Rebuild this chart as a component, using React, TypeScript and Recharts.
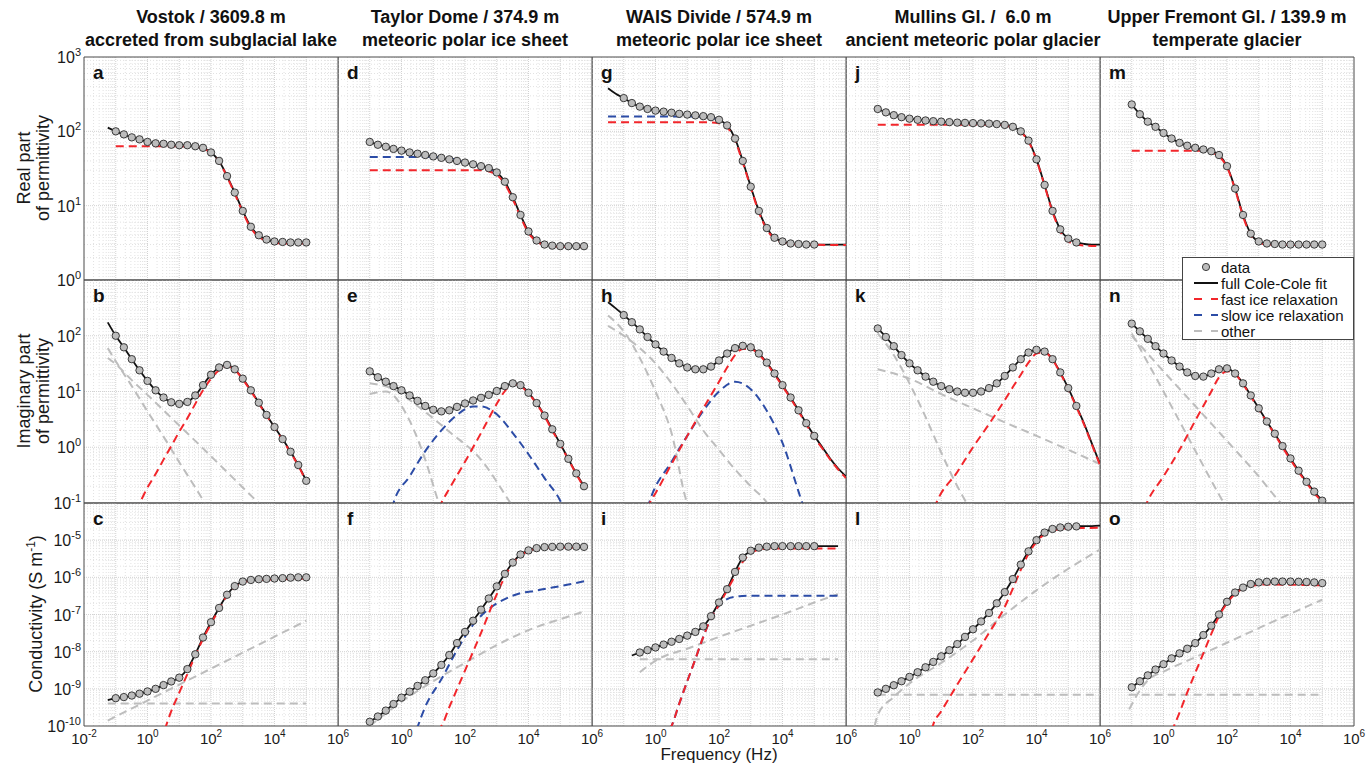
import React from "react";
import {
  CartesianGrid,
  ComposedChart,
  Line,
  ReferenceArea,
  Scatter,
  XAxis,
  YAxis,
} from "recharts";

type Pair = [number, number];
type Val = number | null;

// frequency grid (Hz), quarter-decade steps from 10^-1.5 to 10^6
const FREQ = [
  0.032, 0.056, 0.1, 0.18, 0.32, 0.56, 1, 1.8, 3.2, 5.6, 10, 18, 32, 56, 100, 180, 320, 560, 1000,
  1800, 3200, 5600, 1e4, 1.8e4, 3.2e4, 5.6e4, 1e5, 1.8e5, 3.2e5, 5.6e5, 1e6,
];

const TITLES = [
  ["Vostok / 3609.8 m", "accreted from subglacial lake"],
  ["Taylor Dome / 374.9 m", "meteoric polar ice sheet"],
  ["WAIS Divide / 574.9 m", "meteoric polar ice sheet"],
  ["Mullins Gl. /  6.0 m", "ancient meteoric polar glacier"],
  ["Upper Fremont Gl. / 139.9 m", "temperate glacier"],
];

const X_TICKS_FIRST = [0.01, 1, 100, 1e4, 1e6];
const X_TICKS = [1, 100, 1e4, 1e6];
const ROW_TICKS = [
  [1, 10, 100, 1000],
  [0.1, 1, 10, 100],
  [1e-10, 1e-9, 1e-8, 1e-7, 1e-6, 1e-5],
];
const ROW_DOMAIN: [number, number][] = [
  [1, 1000],
  [0.1, 1000],
  [1e-10, 1e-4],
];

// ---- full Cole-Cole fit, sampled on FREQ ----
const A_FIT: Val[] = [null, 112, 100, 91, 83, 78, 72, 69, 68, 66, 65, 65, 63, 60, 52, 40, 25, 15, 8.5, 5.2, 4.0, 3.5, 3.3, 3.25, 3.2, 3.2, 3.2, null, null, null, null];
const B_FIT: Val[] = [null, 174, 100, 62, 38, 24, 15.5, 10.5, 7.8, 6.4, 6.0, 6.5, 8.5, 13, 20, 27, 30, 25, 17, 10.5, 6.3, 3.8, 2.3, 1.4, 0.83, 0.48, 0.25, null, null, null, null];
const C_FIT: Val[] = [null, 5.0e-10, 5.6e-10, 6.0e-10, 6.6e-10, 7.4e-10, 8.5e-10, 1.0e-9, 1.26e-9, 1.58e-9, 2.0e-9, 3.4e-9, 8.5e-9, 2.4e-8, 6.2e-8, 1.5e-7, 3.4e-7, 5.8e-7, 7.7e-7, 8.5e-7, 8.9e-7, 9.1e-7, 9.3e-7, 9.5e-7, 9.8e-7, 1.0e-6, 1.0e-6, null, null, null, null];

const D_FIT: Val[] = [null, null, 72, 66, 62, 58, 55, 52, 50, 48, 46, 44, 42, 40, 38, 36, 34, 32, 28, 21, 13, 7.5, 4.5, 3.4, 3.0, 2.9, 2.85, 2.85, 2.85, 2.85, null];
const E_FIT: Val[] = [null, null, 23, 18, 15, 12.5, 10.5, 8.5, 6.8, 5.5, 4.7, 4.4, 4.6, 5.3, 6.1, 6.9, 7.7, 8.7, 10.2, 12.5, 14, 13, 9.5, 6.2, 3.7, 2.1, 1.15, 0.62, 0.34, 0.2, null];
const F_FIT: Val[] = [null, null, 1.3e-10, 1.8e-10, 2.6e-10, 3.9e-10, 5.8e-10, 8.4e-10, 1.2e-9, 1.7e-9, 2.6e-9, 4.4e-9, 8.1e-9, 1.7e-8, 3.4e-8, 6.8e-8, 1.35e-7, 2.7e-7, 5.7e-7, 1.24e-6, 2.5e-6, 4.1e-6, 5.3e-6, 6.1e-6, 6.5e-6, 6.6e-6, 6.7e-6, 6.7e-6, 6.7e-6, 6.6e-6, null];

const G_FIT: Val[] = [380, 320, 280, 240, 215, 200, 190, 184, 178, 172, 168, 164, 160, 155, 143, 120, 80, 40, 18, 8.5, 5.0, 3.7, 3.3, 3.1, 3.05, 3.0, 3.0, 3.0, 3.0, 3.0, 3.0];
const H_FIT: Val[] = [400, 310, 235, 175, 130, 95, 70, 52, 40, 32, 27, 25, 25, 28, 36, 48, 60, 66, 62, 48, 33, 21, 13, 7.8, 4.6, 2.7, 1.6, 1.0, 0.62, 0.42, 0.3];
const I_FIT: Val[] = [null, null, null, 7.9e-9, 9.5e-9, 1.1e-8, 1.3e-8, 1.55e-8, 1.85e-8, 2.2e-8, 2.7e-8, 3.4e-8, 4.8e-8, 9e-8, 2.1e-7, 4.8e-7, 1.4e-6, 3.4e-6, 5.2e-6, 6.3e-6, 6.7e-6, 6.9e-6, 6.9e-6, 6.9e-6, 6.9e-6, 6.9e-6, 6.9e-6, 6.9e-6, 6.9e-6, 6.9e-6, null];

const J_FIT: Val[] = [null, null, 200, 180, 165, 155, 148, 143, 140, 137, 135, 133, 131, 130, 129, 128, 127, 125, 122, 115, 100, 75, 42, 19, 8.5, 4.8, 3.6, 3.2, 3.05, 3.0, 3.0];
const K_FIT: Val[] = [null, null, 135, 95, 65, 45, 32, 24, 18.5, 15, 12.5, 11, 10, 9.5, 9.5, 10, 11.5, 14, 19, 27, 38, 50, 56, 52, 38, 22, 11.5, 5.5, 2.6, 1.15, 0.5];
const L_FIT: Val[] = [null, null, 8e-10, 1.0e-9, 1.25e-9, 1.6e-9, 2.1e-9, 2.8e-9, 3.8e-9, 5.3e-9, 7.5e-9, 1.1e-8, 1.6e-8, 2.5e-8, 4.0e-8, 6.5e-8, 1.1e-7, 2.0e-7, 4.0e-7, 9e-7, 2.2e-6, 5e-6, 1.0e-5, 1.6e-5, 2.0e-5, 2.2e-5, 2.3e-5, 2.35e-5, 2.4e-5, 2.4e-5, 2.45e-5];

const M_FIT: Val[] = [null, null, 230, 170, 135, 115, 95, 80, 70, 64, 60, 57, 54, 48, 34, 17, 7.5, 4.2, 3.3, 3.1, 3.05, 3.0, 3.0, 3.0, 3.0, 3.0, 3.0, null, null, null, null];
const N_FIT: Val[] = [null, null, 165, 120, 88, 65, 48, 36, 28, 22, 19, 18.5, 21, 25, 26, 21, 14, 8.5, 5, 2.9, 1.75, 1.05, 0.63, 0.38, 0.24, 0.16, 0.11, null, null, null, null];
const O_FIT: Val[] = [null, null, 1.1e-9, 1.6e-9, 2.3e-9, 3.3e-9, 4.6e-9, 6.6e-9, 9e-9, 1.2e-8, 1.7e-8, 2.8e-8, 5.0e-8, 1.0e-7, 2.2e-7, 3.9e-7, 5.3e-7, 6.6e-7, 7.3e-7, 7.6e-7, 7.7e-7, 7.7e-7, 7.7e-7, 7.6e-7, 7.5e-7, 7.3e-7, 7.0e-7, null, null, null, null];

// ---- fit components, [Hz, value] ----
const A_FAST: Pair[] = [[0.1, 63], [1, 63], [10, 63], [32, 62], [56, 59], [100, 51], [180, 39], [320, 24.5], [560, 14.5], [1000, 8.2], [1800, 5.0], [3200, 3.8], [5600, 3.35], [1e4, 3.15], [3.2e4, 3.1], [1e5, 3.1]];
const B_FAST: Pair[] = [[0.4, 0.075], [0.56, 0.1], [1, 0.19], [1.8, 0.33], [3.2, 0.6], [5.6, 1.05], [10, 1.9], [18, 3.3], [32, 6], [56, 10.5], [100, 17], [180, 24], [320, 28], [560, 24.5], [1000, 16.5], [1800, 10.2], [3200, 6.1], [5600, 3.7], [1e4, 2.25], [1.8e4, 1.35], [3.2e4, 0.8], [5.6e4, 0.47], [1e5, 0.24]];
const B_OTHER_1: Pair[] = [[0.056, 60], [0.1, 35], [0.32, 12.5], [1, 4.4], [3.2, 1.55], [10, 0.54], [32, 0.19], [100, 0.066]];
const B_OTHER_2: Pair[] = [[0.056, 40], [0.1, 31], [0.32, 16], [1, 8.7], [3.2, 4.6], [10, 2.45], [32, 1.3], [100, 0.69], [320, 0.36], [1000, 0.19], [3200, 0.1], [5600, 0.075]];
const C_FAST: Pair[] = [[3.5, 8e-11], [5.6, 2.5e-10], [10, 7.9e-10], [18, 2.5e-9], [32, 7.9e-9], [56, 2.2e-8], [100, 5.6e-8], [180, 1.4e-7], [320, 3.2e-7], [560, 5.4e-7], [1000, 7.2e-7], [1800, 8.1e-7], [3200, 8.5e-7], [1e4, 8.8e-7], [1e5, 9.2e-7]];
const C_OTHER_1: Pair[] = [[0.056, 4e-10], [1e5, 4e-10]];
const C_OTHER_2: Pair[] = [[0.056, 1.4e-10], [1e5, 6.8e-8]];

const D_FAST: Pair[] = [[0.1, 30], [100, 30], [320, 30], [560, 29], [1000, 26], [1800, 19.5], [3200, 12.2], [5600, 7.1], [1e4, 4.3], [1.8e4, 3.3], [3.2e4, 2.95], [1e5, 2.8], [5.6e5, 2.8]];
const D_SLOW: Pair[] = [[0.1, 45], [10, 45], [32, 43.5], [100, 38.5], [320, 33.5], [1000, 27.5]];
const E_FAST: Pair[] = [[15, 0.08], [18, 0.1], [32, 0.18], [100, 0.55], [320, 1.8], [1000, 6.0], [1800, 10.2], [3200, 13.5], [5600, 12.5], [1e4, 9.2], [1.8e4, 6.0], [3.2e4, 3.6], [5.6e4, 2.0], [1e5, 1.12], [1.8e5, 0.6], [3.2e5, 0.33], [5.6e5, 0.19]];
const E_SLOW: Pair[] = [[0.5, 0.08], [0.56, 0.1], [1.8, 0.3], [5.6, 0.85], [18, 2.0], [56, 3.8], [180, 5.4], [320, 5.4], [1000, 3.9], [3200, 1.8], [1e4, 0.75], [3.2e4, 0.28], [1e5, 0.11], [1.3e5, 0.08]];
const E_OTHER_1: Pair[] = [[0.1, 9], [0.32, 10], [1.8, 3], [5.6, 0.6], [15, 0.1], [18, 0.075]];
const E_OTHER_2: Pair[] = [[0.1, 14], [0.56, 11], [3.2, 5.5], [32, 1.9], [320, 0.6], [2700, 0.1], [3500, 0.08]];
const F_FAST: Pair[] = [[12, 8e-11], [18, 1e-10], [32, 3.2e-10], [100, 3.1e-9], [320, 3.2e-8], [1000, 3.5e-7], [1800, 1.04e-6], [3200, 2.37e-6], [5600, 3.9e-6], [1e4, 5.1e-6], [1.8e4, 5.9e-6], [3.2e4, 6.3e-6], [1e5, 6.4e-6], [5.6e5, 6.3e-6]];
const F_SLOW: Pair[] = [[3, 8e-11], [5.6, 3.3e-10], [18, 1.8e-9], [56, 1.1e-8], [180, 5.3e-8], [560, 1.4e-7], [1800, 2.6e-7], [5600, 3.75e-7], [1.8e4, 4.4e-7], [5.6e4, 5.3e-7], [1.8e5, 6.4e-7], [5.6e5, 7.8e-7]];
const F_OTHER_1: Pair[] = [[0.1, 1.0e-10], [1, 4.5e-10], [10, 1.6e-9], [100, 5e-9], [1000, 1.5e-8], [1e4, 3.8e-8], [1e5, 7.5e-8], [5.6e5, 1.2e-7]];

const G_FAST: Pair[] = [[0.032, 132], [56, 132], [100, 128], [180, 113], [320, 76], [560, 38], [1000, 17.5], [1800, 8.2], [3200, 4.8], [5600, 3.6], [1e4, 3.2], [3.2e4, 3.0], [1e6, 2.95]];
const G_SLOW: Pair[] = [[0.032, 158], [18, 158], [56, 152], [100, 142], [180, 120]];
const H_FAST: Pair[] = [[0.56, 0.08], [0.66, 0.1], [1, 0.15], [3.2, 0.5], [10, 1.6], [32, 5], [100, 15], [180, 27], [320, 45], [560, 58], [1000, 58], [1800, 46], [3200, 32], [5600, 20], [1e4, 12.5], [1.8e4, 7.5], [3.2e4, 4.4], [5.6e4, 2.6], [1e5, 1.5], [1.8e5, 0.95], [3.2e5, 0.6], [5.6e5, 0.4], [1e6, 0.28]];
const H_SLOW: Pair[] = [[0.56, 0.08], [0.63, 0.1], [3.2, 0.55], [10, 1.6], [32, 4.5], [100, 10], [320, 15], [1000, 11], [3200, 4.5], [1e4, 1.2], [3.2e4, 0.16], [4.2e4, 0.1], [5e4, 0.08]];
const H_OTHER_1: Pair[] = [[0.032, 230], [0.1, 120], [0.32, 40], [1, 10], [3.2, 1.8], [10, 0.1], [12, 0.08]];
const H_OTHER_2: Pair[] = [[0.032, 150], [0.1, 100], [0.32, 60], [1, 32], [3.2, 14], [10, 5.5], [32, 2], [100, 0.9], [320, 0.4], [1000, 0.2], [3300, 0.1], [4000, 0.085]];
const I_FAST: Pair[] = [[2.8, 8e-11], [3.2, 1e-10], [5.6, 4e-10], [10, 1.6e-9], [18, 6.3e-9], [32, 2.5e-8], [56, 8e-8], [100, 1.8e-7], [180, 4.5e-7], [320, 1.1e-6], [560, 2.6e-6], [1000, 4.5e-6], [1800, 5.5e-6], [3200, 5.9e-6], [1e4, 6.0e-6], [5.6e5, 6.0e-6]];
const I_SLOW: Pair[] = [[2.8, 8e-11], [3.2, 1e-10], [5.6, 4e-10], [10, 1.6e-9], [18, 6.3e-9], [32, 2.5e-8], [56, 8e-8], [100, 1.7e-7], [180, 2.6e-7], [320, 3.0e-7], [560, 3.15e-7], [1000, 3.2e-7], [5.6e5, 3.2e-7]];
const I_OTHER_1: Pair[] = [[0.32, 6.3e-9], [5.6e5, 6.3e-9]];
const I_OTHER_2: Pair[] = [[0.32, 2.8e-9], [1.3, 6.5e-9], [10, 1.2e-8], [100, 2.5e-8], [1000, 5e-8], [1e4, 1e-7], [1e5, 2.1e-7], [5.6e5, 3.5e-7]];

const J_FAST: Pair[] = [[0.1, 123], [560, 123], [1000, 120], [1800, 113], [3200, 98], [5600, 73], [1e4, 41], [1.8e4, 18.5], [3.2e4, 8.2], [5.6e4, 4.5], [1e5, 3.3], [1.8e5, 3.0], [3.2e5, 2.9], [1e6, 2.85]];
const K_FAST: Pair[] = [[6, 0.08], [7, 0.1], [32, 0.36], [100, 1.0], [320, 2.6], [1000, 7], [1800, 12], [3200, 20], [5600, 33], [1e4, 48], [1.8e4, 50], [3.2e4, 37], [5.6e4, 21.5], [1e5, 11], [1.8e5, 5.3], [3.2e5, 2.5], [5.6e5, 1.1], [1e6, 0.48]];
const K_OTHER_1: Pair[] = [[0.1, 110], [0.32, 45], [1, 14], [3.2, 3.5], [10, 0.8], [32, 0.2], [63, 0.1], [80, 0.08]];
const K_OTHER_2: Pair[] = [[0.1, 25], [1, 17], [10, 9], [100, 5], [1000, 2.8], [1e4, 1.6], [1e5, 0.9], [1e6, 0.5]];
const L_FAST: Pair[] = [[5, 8e-11], [5.6, 1.1e-10], [10, 2.5e-10], [32, 1.3e-9], [100, 6.3e-9], [320, 3.2e-8], [1000, 1.6e-7], [1800, 5e-7], [3200, 1.6e-6], [5600, 4.3e-6], [1e4, 9e-6], [1.8e4, 1.45e-5], [3.2e4, 1.8e-5], [5.6e4, 2.0e-5], [1e5, 2.1e-5], [1e6, 2.15e-5]];
const L_OTHER_1: Pair[] = [[0.08, 1e-10], [0.1, 2e-10], [0.32, 6e-10], [1, 1.4e-9], [10, 5e-9], [100, 2e-8], [1000, 1e-7], [1e4, 4.5e-7], [1e5, 1.7e-6], [1e6, 5.6e-6]];
const L_OTHER_2: Pair[] = [[0.1, 6.9e-10], [1e6, 6.9e-10]];

const M_FAST: Pair[] = [[0.1, 55], [18, 55], [32, 52], [56, 46], [100, 33], [180, 16.5], [320, 7.2], [560, 4.0], [1000, 3.2], [1800, 3.0], [1e5, 2.95]];
const N_FAST: Pair[] = [[0.25, 0.08], [0.32, 0.11], [1, 0.3], [3.2, 0.9], [10, 3.0], [32, 10], [56, 18], [100, 23], [180, 20.5], [320, 13.5], [560, 8.2], [1000, 4.8], [1800, 2.8], [3200, 1.7], [5600, 1.0], [1e4, 0.6], [1.8e4, 0.36], [3.2e4, 0.23], [5.6e4, 0.15], [1e5, 0.105]];
const N_OTHER_1: Pair[] = [[0.1, 110], [1, 10], [10, 0.87], [63, 0.126], [80, 0.1], [100, 0.08]];
const N_OTHER_2: Pair[] = [[0.1, 100], [1, 23], [10, 5.5], [100, 1.3], [1000, 0.3], [5000, 0.1], [6000, 0.09]];
const O_FAST: Pair[] = [[1.8, 7e-11], [3.2, 2.3e-10], [5.6, 8e-10], [10, 2.7e-9], [18, 9e-9], [32, 3.0e-8], [56, 9e-8], [100, 2.0e-7], [180, 3.6e-7], [320, 5.0e-7], [560, 5.9e-7], [1000, 6.3e-7], [1800, 6.4e-7], [1e5, 6.1e-7]];
const O_OTHER_1: Pair[] = [[0.08, 6.9e-10], [7.6e4, 6.9e-10]];
const O_OTHER_2: Pair[] = [[0.083, 2.8e-10], [0.18, 9e-10], [0.32, 1.7e-9], [1, 2.9e-9], [10, 7.1e-9], [100, 1.74e-8], [1000, 4.3e-8], [1e4, 1.05e-7], [1e5, 2.5e-7]];

type PanelDef = {
  letter: string;
  col: number;
  row: number;
  fit: Val[];
  dataRange: [number, number];
  fast: Pair[];
  slow?: Pair[];
  other?: Pair[][];
};

const PANELS: PanelDef[] = [
  { letter: "a", col: 0, row: 0, fit: A_FIT, dataRange: [2, 26], fast: A_FAST },
  { letter: "b", col: 0, row: 1, fit: B_FIT, dataRange: [2, 26], fast: B_FAST, other: [B_OTHER_1, B_OTHER_2] },
  { letter: "c", col: 0, row: 2, fit: C_FIT, dataRange: [2, 26], fast: C_FAST, other: [C_OTHER_1, C_OTHER_2] },
  { letter: "d", col: 1, row: 0, fit: D_FIT, dataRange: [2, 29], fast: D_FAST, slow: D_SLOW },
  { letter: "e", col: 1, row: 1, fit: E_FIT, dataRange: [2, 29], fast: E_FAST, slow: E_SLOW, other: [E_OTHER_1, E_OTHER_2] },
  { letter: "f", col: 1, row: 2, fit: F_FIT, dataRange: [2, 29], fast: F_FAST, slow: F_SLOW, other: [F_OTHER_1] },
  { letter: "g", col: 2, row: 0, fit: G_FIT, dataRange: [2, 26], fast: G_FAST, slow: G_SLOW },
  { letter: "h", col: 2, row: 1, fit: H_FIT, dataRange: [2, 26], fast: H_FAST, slow: H_SLOW, other: [H_OTHER_1, H_OTHER_2] },
  { letter: "i", col: 2, row: 2, fit: I_FIT, dataRange: [4, 26], fast: I_FAST, slow: I_SLOW, other: [I_OTHER_1, I_OTHER_2] },
  { letter: "j", col: 3, row: 0, fit: J_FIT, dataRange: [2, 27], fast: J_FAST },
  { letter: "k", col: 3, row: 1, fit: K_FIT, dataRange: [2, 27], fast: K_FAST, other: [K_OTHER_1, K_OTHER_2] },
  { letter: "l", col: 3, row: 2, fit: L_FIT, dataRange: [2, 27], fast: L_FAST, other: [L_OTHER_1, L_OTHER_2] },
  { letter: "m", col: 4, row: 0, fit: M_FIT, dataRange: [2, 26], fast: M_FAST },
  { letter: "n", col: 4, row: 1, fit: N_FIT, dataRange: [2, 26], fast: N_FAST, other: [N_OTHER_1, N_OTHER_2] },
  { letter: "o", col: 4, row: 2, fit: O_FIT, dataRange: [2, 26], fast: O_FAST, other: [O_OTHER_1, O_OTHER_2] },
];

// layout
const COL_X = [84, 338, 592, 846, 1100];
const ROW_Y = [57, 280, 503];
const PLOT_W = 254;
const PLOT_H = 223;
const PAD = 12;
const Y_AXIS_W = 60;
const X_AXIS_H = 36;

const FONT = '"Liberation Sans", Arial, Helvetica, sans-serif';
const FIT_COLOR = "#111111";
const FAST_COLOR = "#f2262b";
const SLOW_COLOR = "#2c4ca6";
const OTHER_COLOR = "#bdbdbd";
const DASH = "8 5";
const TICK_STROKE = { stroke: "#555", strokeWidth: 1 };

function logGrid(lo: number, hi: number) {
  const major: number[] = [];
  const minor: number[] = [];
  const e0 = Math.round(Math.log10(lo));
  const e1 = Math.round(Math.log10(hi));
  for (let e = e0; e < e1; e++) {
    if (e > e0) major.push(Math.pow(10, e));
    for (let m = 2; m <= 9; m++) minor.push(m * Math.pow(10, e));
  }
  return { major, minor };
}

const X_GRID = logGrid(0.01, 1e6);

function PowTick(props: any) {
  const { x, y, payload, side } = props;
  const e = Math.round(Math.log10(payload.value));
  if (side === "y") {
    return (
      <text x={x} y={y + 6} textAnchor="end" fontSize={16} fill="#1a1a1a" fontFamily={FONT}>
        10
        <tspan dy={-7} fontSize={11}>
          {e}
        </tspan>
      </text>
    );
  }
  return (
    <text x={x} y={y + 16} textAnchor="middle" fontSize={15} fill="#1a1a1a" fontFamily={FONT}>
      10
      <tspan dy={-7} fontSize={10}>
        {e}
      </tspan>
    </text>
  );
}

const dot = (p: any) => (
  <circle cx={p.cx} cy={p.cy} r={3.7} fill="#bcbcbc" stroke="#2a2a2a" strokeWidth={0.9} />
);

const toPts = (pairs: Pair[]) => pairs.map(([f, v]) => ({ f, v }));

// inner tick marks on all four sides (MATLAB style)
function innerXAxis(id: string, orientation: "top" | "bottom", ticks: number[], size: number) {
  return (
    <XAxis
      key={id}
      xAxisId={id}
      orientation={orientation}
      mirror
      type="number"
      scale="log"
      domain={[0.01, 1e6]}
      allowDataOverflow
      ticks={ticks}
      interval={0}
      tick={false}
      axisLine={false}
      tickLine={TICK_STROKE}
      tickSize={size}
    />
  );
}

function innerYAxis(id: string, orientation: "left" | "right", domain: [number, number], ticks: number[], size: number) {
  return (
    <YAxis
      key={id}
      yAxisId={id}
      orientation={orientation}
      mirror
      type="number"
      scale="log"
      domain={domain}
      allowDataOverflow
      ticks={ticks}
      interval={0}
      tick={false}
      axisLine={false}
      tickLine={TICK_STROKE}
      tickSize={size}
    />
  );
}

function Panel({ p }: { p: PanelDef }) {
  const showY = p.col === 0;
  const showX = p.row === 2;
  const yW = showY ? Y_AXIS_W : 0;
  const xH = showX ? X_AXIS_H : 0;
  const width = yW + PLOT_W + PAD;
  const height = PAD + PLOT_H + xH + PAD;
  const dom = ROW_DOMAIN[p.row];
  const [lo, hi] = dom;
  const yGrid = logGrid(lo, hi);

  const fitPts = FREQ.map((f, i) => ({ f, v: p.fit[i], i })).filter((d) => d.v != null);
  const dataPts = fitPts.filter((d) => d.i >= p.dataRange[0] && d.i <= p.dataRange[1]);

  return (
    <div style={{ position: "absolute", left: COL_X[p.col] - yW, top: ROW_Y[p.row] - PAD }}>
      <ComposedChart width={width} height={height} margin={{ top: PAD, right: PAD, bottom: PAD, left: 0 }}>
        <CartesianGrid
          verticalValues={X_GRID.minor}
          horizontalValues={yGrid.minor}
          stroke="#e2e2e2"
          strokeDasharray="1 2"
        />
        <CartesianGrid
          verticalValues={X_GRID.major}
          horizontalValues={yGrid.major}
          stroke="#d2d2d2"
          strokeDasharray="1 1"
        />
        <XAxis
          type="number"
          dataKey="f"
          scale="log"
          domain={[0.01, 1e6]}
          allowDataOverflow
          hide={!showX}
          height={X_AXIS_H}
          ticks={p.col === 0 ? X_TICKS_FIRST : X_TICKS}
          tick={<PowTick side="x" />}
          tickLine={false}
          axisLine={false}
          tickSize={2}
          tickMargin={0}
          interval={0}
        />
        <YAxis
          type="number"
          dataKey="v"
          scale="log"
          domain={dom}
          allowDataOverflow
          hide={!showY}
          width={Y_AXIS_W}
          ticks={ROW_TICKS[p.row]}
          tick={<PowTick side="y" />}
          tickLine={false}
          axisLine={false}
          tickSize={3}
          tickMargin={0}
          interval={0}
        />
        {innerXAxis("bM", "bottom", X_GRID.major, 5)}
        {innerXAxis("bm", "bottom", X_GRID.minor, 2.5)}
        {innerXAxis("tM", "top", X_GRID.major, 5)}
        {innerXAxis("tm", "top", X_GRID.minor, 2.5)}
        {innerYAxis("lM", "left", dom, yGrid.major, 5)}
        {innerYAxis("lm", "left", dom, yGrid.minor, 2.5)}
        {innerYAxis("rM", "right", dom, yGrid.major, 5)}
        {innerYAxis("rm", "right", dom, yGrid.minor, 2.5)}
        <Scatter data={dataPts} dataKey="v" shape={dot} isAnimationActive={false} />
        <Line
          data={fitPts}
          dataKey="v"
          type="monotone"
          stroke={FIT_COLOR}
          strokeWidth={1.8}
          dot={false}
          activeDot={false}
          isAnimationActive={false}
        />
        {(p.other ?? []).map((o, k) => (
          <Line
            key={`o${k}`}
            data={toPts(o)}
            dataKey="v"
            type="monotone"
            stroke={OTHER_COLOR}
            strokeWidth={2}
            strokeDasharray={DASH}
            dot={false}
            activeDot={false}
            isAnimationActive={false}
          />
        ))}
        {p.slow && (
          <Line
            data={toPts(p.slow)}
            dataKey="v"
            type="monotone"
            stroke={SLOW_COLOR}
            strokeWidth={2}
            strokeDasharray={DASH}
            dot={false}
            activeDot={false}
            isAnimationActive={false}
          />
        )}
        <Line
          data={toPts(p.fast)}
          dataKey="v"
          type="monotone"
          stroke={FAST_COLOR}
          strokeWidth={2}
          strokeDasharray={DASH}
          dot={false}
          activeDot={false}
          isAnimationActive={false}
        />
        <ReferenceArea
          x1={0.01}
          x2={1e6}
          y1={lo}
          y2={hi}
          fill="none"
          stroke="#4a4a4a"
          strokeWidth={1}
          ifOverflow="visible"
        />
      </ComposedChart>
      <div
        style={{
          position: "absolute",
          left: yW + 9,
          top: PAD + 6,
          font: `bold 19px ${FONT}`,
          lineHeight: "20px",
          color: "#111",
        }}
      >
        {p.letter}
      </div>
    </div>
  );
}

const LEGEND_ROWS = [
  { label: "data", kind: "dot", color: "#2a2a2a" },
  { label: "full Cole-Cole fit", kind: "line", color: FIT_COLOR },
  { label: "fast ice relaxation", kind: "dash", color: FAST_COLOR },
  { label: "slow ice relaxation", kind: "dash", color: SLOW_COLOR },
  { label: "other", kind: "dash", color: OTHER_COLOR },
];

function LegendBox() {
  return (
    <div
      style={{
        position: "absolute",
        left: 1182,
        top: 257,
        width: 172,
        height: 83,
        boxSizing: "border-box",
        background: "#fff",
        border: "1px solid #444",
        padding: "1px 0 0 11px",
        font: `15px ${FONT}`,
        color: "#111",
      }}
    >
      {LEGEND_ROWS.map((r) => (
        <div key={r.label} style={{ display: "flex", alignItems: "center", height: 16 }}>
          <svg width={25} height={16} style={{ flex: "none", marginRight: 2 }}>
            {r.kind === "dot" && (
              <circle cx={12} cy={8} r={3.6} fill="#bcbcbc" stroke={r.color} strokeWidth={0.9} />
            )}
            {r.kind === "line" && <line x1={0} x2={24} y1={8} y2={8} stroke={r.color} strokeWidth={2} />}
            {r.kind === "dash" && (
              <line x1={0} x2={24} y1={8} y2={8} stroke={r.color} strokeWidth={2} strokeDasharray="8 9" />
            )}
          </svg>
          <span style={{ whiteSpace: "nowrap" }}>{r.label}</span>
        </div>
      ))}
    </div>
  );
}

function VLabel({ cx, cy, lines, sup }: { cx: number; cy: number; lines: string[]; sup?: string }) {
  const w = 260;
  const h = 44;
  return (
    <div
      style={{
        position: "absolute",
        left: cx - w / 2,
        top: cy - h / 2,
        width: w,
        height: h,
        transform: "rotate(-90deg)",
        display: "flex",
        flexDirection: "column",
        justifyContent: "center",
        alignItems: "center",
        font: `18px ${FONT}`,
        lineHeight: "19px",
        color: "#1a1a1a",
      }}
    >
      {lines.map((l, i) => (
        <div key={i} style={{ whiteSpace: "nowrap" }}>
          {l}
          {sup && i === lines.length - 1 ? (
            <>
              <sup style={{ fontSize: 12 }}>{sup}</sup>)
            </>
          ) : null}
        </div>
      ))}
    </div>
  );
}

export default function App() {
  return (
    <div
      style={{
        position: "absolute",
        left: 0,
        top: 0,
        width: 1367,
        height: 765,
        background: "#fff",
        overflow: "hidden",
        fontFamily: FONT,
      }}
    >
      {TITLES.map((t, c) => (
        <div
          key={c}
          style={{
            position: "absolute",
            left: COL_X[c] + PLOT_W / 2 - 160,
            top: 6,
            width: 320,
            textAlign: "center",
            font: `bold 18px ${FONT}`,
            lineHeight: "23px",
            color: "#111",
            whiteSpace: "pre",
          }}
        >
          <div>{t[0]}</div>
          <div>{t[1]}</div>
        </div>
      ))}
      {PANELS.map((p) => (
        <Panel key={p.letter} p={p} />
      ))}
      <VLabel cx={34} cy={168} lines={["Real part", "of permittivity"]} />
      <VLabel cx={34} cy={391} lines={["Imaginary part", "of permittivity"]} />
      <VLabel cx={34} cy={614} lines={["Conductivity (S m"]} sup="-1" />
      <div
        style={{
          position: "absolute",
          left: COL_X[2] + PLOT_W / 2 - 100,
          top: 746,
          width: 200,
          textAlign: "center",
          font: `17px ${FONT}`,
          lineHeight: "18px",
          color: "#1a1a1a",
        }}
      >
        Frequency (Hz)
      </div>
      <LegendBox />
    </div>
  );
}
